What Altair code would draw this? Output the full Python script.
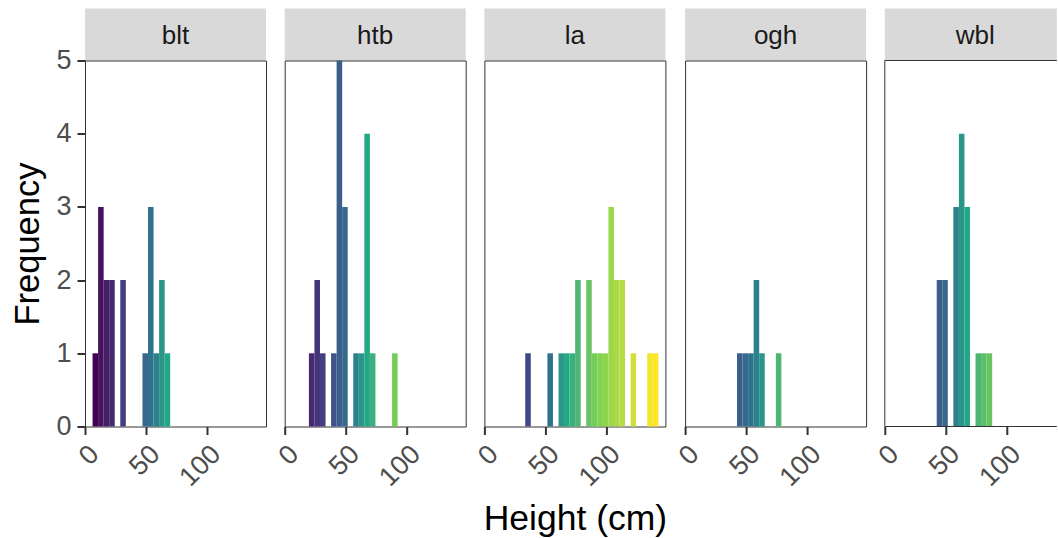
import altair as alt
import pandas as pd

# Shared histogram bins (cm)
bin_edges = [6.2, 10.75, 15.3, 19.85, 24.4, 28.95, 33.5, 38.05, 42.6, 47.15,
             51.7, 56.25, 60.8, 65.35, 69.9, 74.45, 79.0, 83.55, 88.1, 92.65,
             97.2, 101.75, 106.3, 110.85, 115.4, 119.95, 124.5, 129.05, 133.6,
             138.15, 142.7]

sites = ["blt", "htb", "la", "ogh", "wbl"]

# Counts per bin for each site
counts = {
    "blt": [1, 3, 2, 2, 0, 2, 0, 0, 0, 1, 3, 1, 2, 1, 0,
            0, 0, 0, 0, 0, 0, 0, 0, 0, 0, 0, 0, 0, 0, 0],
    "htb": [0, 0, 0, 1, 2, 1, 0, 1, 5, 3, 0, 1, 1, 4, 1,
            0, 0, 0, 1, 0, 0, 0, 0, 0, 0, 0, 0, 0, 0, 0],
    "la":  [0, 0, 0, 0, 0, 0, 1, 0, 0, 0, 1, 0, 1, 1, 1,
            2, 0, 2, 1, 1, 1, 3, 2, 2, 0, 1, 0, 0, 1, 1],
    "ogh": [0, 0, 0, 0, 0, 0, 0, 0, 1, 1, 1, 2, 1, 0, 0,
            1, 0, 0, 0, 0, 0, 0, 0, 0, 0, 0, 0, 0, 0, 0],
    "wbl": [0, 0, 0, 0, 0, 0, 0, 0, 2, 2, 0, 3, 4, 3, 0,
            1, 1, 1, 0, 0, 0, 0, 0, 0, 0, 0, 0, 0, 0, 0],
}

x_ticks = [0, 50, 100]
y_ticks = [0, 1, 2, 3, 4, 5]
X_MAX = 148.5

# Fill gradient: viridis stops placed along the height axis
fill_stops = [8.5, 34, 56, 67.6, 93, 140.4]
fill_colors = ["#440154", "#414487", "#2a788e", "#22a884", "#7ad151", "#fde725"]

rows = []
for site in sites:
    for i, c in enumerate(counts[site]):
        if c > 0:
            lo, hi = bin_edges[i], bin_edges[i + 1]
            rows.append({"site": site, "start": lo, "end": hi,
                         "mid": (lo + hi) / 2, "count": c})
df = pd.DataFrame(rows)

PANEL_W = 181
LAST_W = 172          # the right-most panel runs off the page edge
PANEL_H = 366
STRIP_H = 52
FONT = "Liberation Sans"
BORDER = "#333333"

columns = []
for k, site in enumerate(sites):
    sub = df[df["site"] == site]
    last = k == len(sites) - 1
    w = LAST_W if last else PANEL_W
    x_hi = X_MAX * w / PANEL_W

    one = alt.Chart(pd.DataFrame({"label": [site]}))
    strip = alt.layer(
        one.mark_rect(color="#d9d9d9").encode(
            x=alt.value(0), x2=alt.value(w),
            y=alt.value(0), y2=alt.value(STRIP_H)),
        one.mark_text(font=FONT, fontSize=26, color="#1a1a1a",
                      baseline="middle", align="center").encode(
            x=alt.value(PANEL_W / 2), y=alt.value(STRIP_H / 2 + 1),
            text="label:N"),
    ).properties(width=w, height=STRIP_H,
                 view=alt.ViewBackground(stroke="transparent"))

    x_axis = alt.Axis(values=x_ticks, labelAngle=315, labelAlign="right",
                      labelBaseline="top", labelPadding=6,
                      title="Height (cm)" if k == 2 else None,
                      titleFontSize=35.5, titleFontWeight="normal",
                      titlePadding=11, titleColor="black",
                      grid=False, domain=False)
    if k == 0:
        y_axis = alt.Axis(values=y_ticks, title="Frequency", grid=False,
                          domain=False, titleFontSize=34.5, labelPadding=6,
                          titleFontWeight="normal", titleColor="black",
                          titlePadding=10)
    else:
        y_axis = None

    bars = alt.Chart(sub).mark_rect().encode(
        x=alt.X("start:Q", scale=alt.Scale(domain=[0, x_hi], nice=False,
                                            zero=False), axis=x_axis),
        x2="end:Q",
        y=alt.Y("count:Q", scale=alt.Scale(domain=[0, 5], nice=False),
                axis=y_axis),
        y2=alt.datum(0),
        color=alt.Color("mid:Q", scale=alt.Scale(domain=fill_stops,
                                                  range=fill_colors,
                                                  interpolate="lab"),
                        legend=None),
    )

    if last:
        # open on the right: left, top and bottom edges only
        frame = [
            one.mark_rule(color=BORDER, strokeWidth=1).encode(
                x=alt.value(0), y=alt.value(0), y2=alt.value(PANEL_H)),
            one.mark_rule(color=BORDER, strokeWidth=1).encode(
                x=alt.value(0), x2=alt.value(w), y=alt.value(0)),
            one.mark_rule(color=BORDER, strokeWidth=1).encode(
                x=alt.value(0), x2=alt.value(w), y=alt.value(PANEL_H)),
        ]
        panel = alt.layer(bars, *frame).properties(
            width=w, height=PANEL_H,
            view=alt.ViewBackground(stroke="transparent"))
    else:
        panel = bars.properties(
            width=w, height=PANEL_H,
            view=alt.ViewBackground(stroke=BORDER, strokeWidth=1))

    columns.append(alt.vconcat(strip, panel, spacing=0, bounds="flush"))

chart = alt.hconcat(*columns, spacing=5.7).properties(
    padding={"left": 10, "top": 7.5, "right": 0, "bottom": 0}
).configure_axis(
    labelFont=FONT, titleFont=FONT, labelFontSize=27, labelColor="#4d4d4d",
    tickColor=BORDER, tickWidth=2, tickSize=8,
).configure_view(stroke=BORDER)

chart.save("out.html", embed_options={"renderer": "svg", "actions": False})
